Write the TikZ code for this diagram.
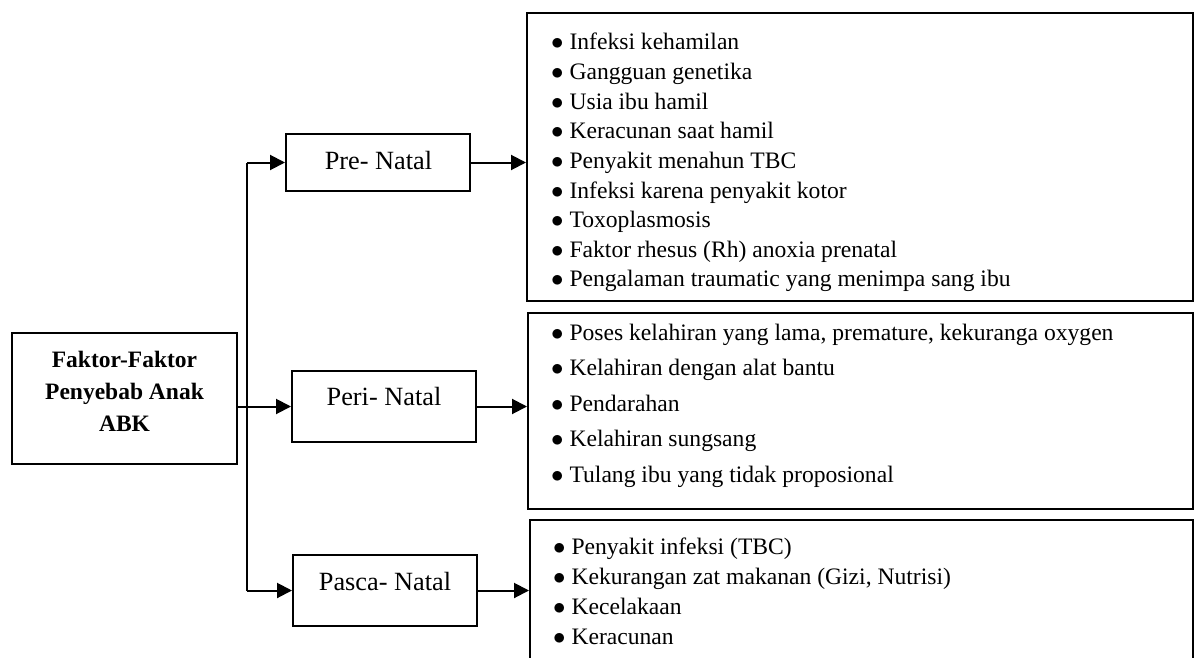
\documentclass[tikz,border=0pt]{standalone}
\usepackage{fontspec}
\setmainfont{Liberation Serif}
\usetikzlibrary{arrows.meta}
\newcommand{\listdot}{$\bullet$\ }
\begin{document}
\begin{tikzpicture}[x=1pt,y=-1pt,
  box/.style={draw,line width=2pt,inner sep=0pt},
  stagetext/.style={inner sep=0pt,font=\fontsize{26.3}{30}\selectfont},
  listitem/.style={anchor=base west,inner sep=0pt,font=\fontsize{23.6}{28}\selectfont},
  link/.style={line width=2pt,-{Triangle[length=15pt,width=15pt]}}]%
\clip (0,0) rectangle (1201,658);%
\node[box,minimum width=225pt,minimum height=131pt] (mainbox) at (124.5,398.5) {};%
\node[inner sep=0pt,align=center,font=\bfseries\fontsize{23.5}{32}\selectfont] (maintext) at (124.5,391) {Faktor-Faktor\\Penyebab Anak\\ABK};%
\node[box,minimum width=184pt,minimum height=57pt] (prebox) at (378,162.5) {};%
\node[stagetext] (pretext) at (378.5,161) {Pre- Natal};%
\node[box,minimum width=184pt,minimum height=71pt] (peribox) at (384,406.5) {};%
\node[stagetext] (peritext) at (384,396) {Peri- Natal};%
\node[box,minimum width=184pt,minimum height=71pt] (pascabox) at (385,590.5) {};%
\node[stagetext] (pascatext) at (385,581) {Pasca- Natal};%
\node[box,minimum width=666pt,minimum height=288pt] (prelist) at (860,157) {};%
\node[box,minimum width=665pt,minimum height=196pt] (perilist) at (860.5,411) {};%
\node[box,minimum width=663pt,minimum height=150pt] (pascalist) at (861.5,595) {};%
\node[listitem] (pre1) at (551,50) {\listdot Infeksi kehamilan};%
\node[listitem] (pre2) at (551,79.6) {\listdot Gangguan genetika};%
\node[listitem] (pre3) at (551,109.2) {\listdot Usia ibu hamil};%
\node[listitem] (pre4) at (551,138.8) {\listdot Keracunan saat hamil};%
\node[listitem] (pre5) at (551,168.4) {\listdot Penyakit menahun TBC};%
\node[listitem] (pre6) at (551,198) {\listdot Infeksi karena penyakit kotor};%
\node[listitem] (pre7) at (551,227.6) {\listdot Toxoplasmosis};%
\node[listitem] (pre8) at (551,257.2) {\listdot Faktor rhesus (Rh) anoxia prenatal};%
\node[listitem] (pre9) at (551,286.8) {\listdot Pengalaman traumatic yang menimpa sang ibu};%
\node[listitem] (peri1) at (551,340) {\listdot Poses kelahiran yang lama, premature, kekuranga oxygen};%
\node[listitem] (peri2) at (551,375.5) {\listdot Kelahiran dengan alat bantu};%
\node[listitem] (peri3) at (551,411) {\listdot Pendarahan};%
\node[listitem] (peri4) at (551,446.5) {\listdot Kelahiran sungsang};%
\node[listitem] (peri5) at (551,482) {\listdot Tulang ibu yang tidak proposional};%
\node[listitem] (pasca1) at (553,554) {\listdot Penyakit infeksi (TBC)};%
\node[listitem] (pasca2) at (553,584) {\listdot Kekurangan zat makanan (Gizi, Nutrisi)};%
\node[listitem] (pasca3) at (553,614) {\listdot Kecelakaan};%
\node[listitem] (pasca4) at (553,644) {\listdot Keracunan};%
\coordinate (fork) at (247,406);%
\draw[line width=1.2pt] (prebox.west -| fork) -- (pascabox.west -| fork);%
\draw[link] (prebox.west -| fork) -- (prebox.west);%
\draw[link] (pascabox.west -| fork) -- (pascabox.west);%
\draw[link] (mainbox.east |- peribox.west) -- (peribox.west);%
\draw[link] (prebox.east) -- (prebox.east -| prelist.west);%
\draw[link] (peribox.east) -- (peribox.east -| perilist.west);%
\draw[link] (pascabox.east) -- (pascabox.east -| pascalist.west);%
\end{tikzpicture}
\end{document}
